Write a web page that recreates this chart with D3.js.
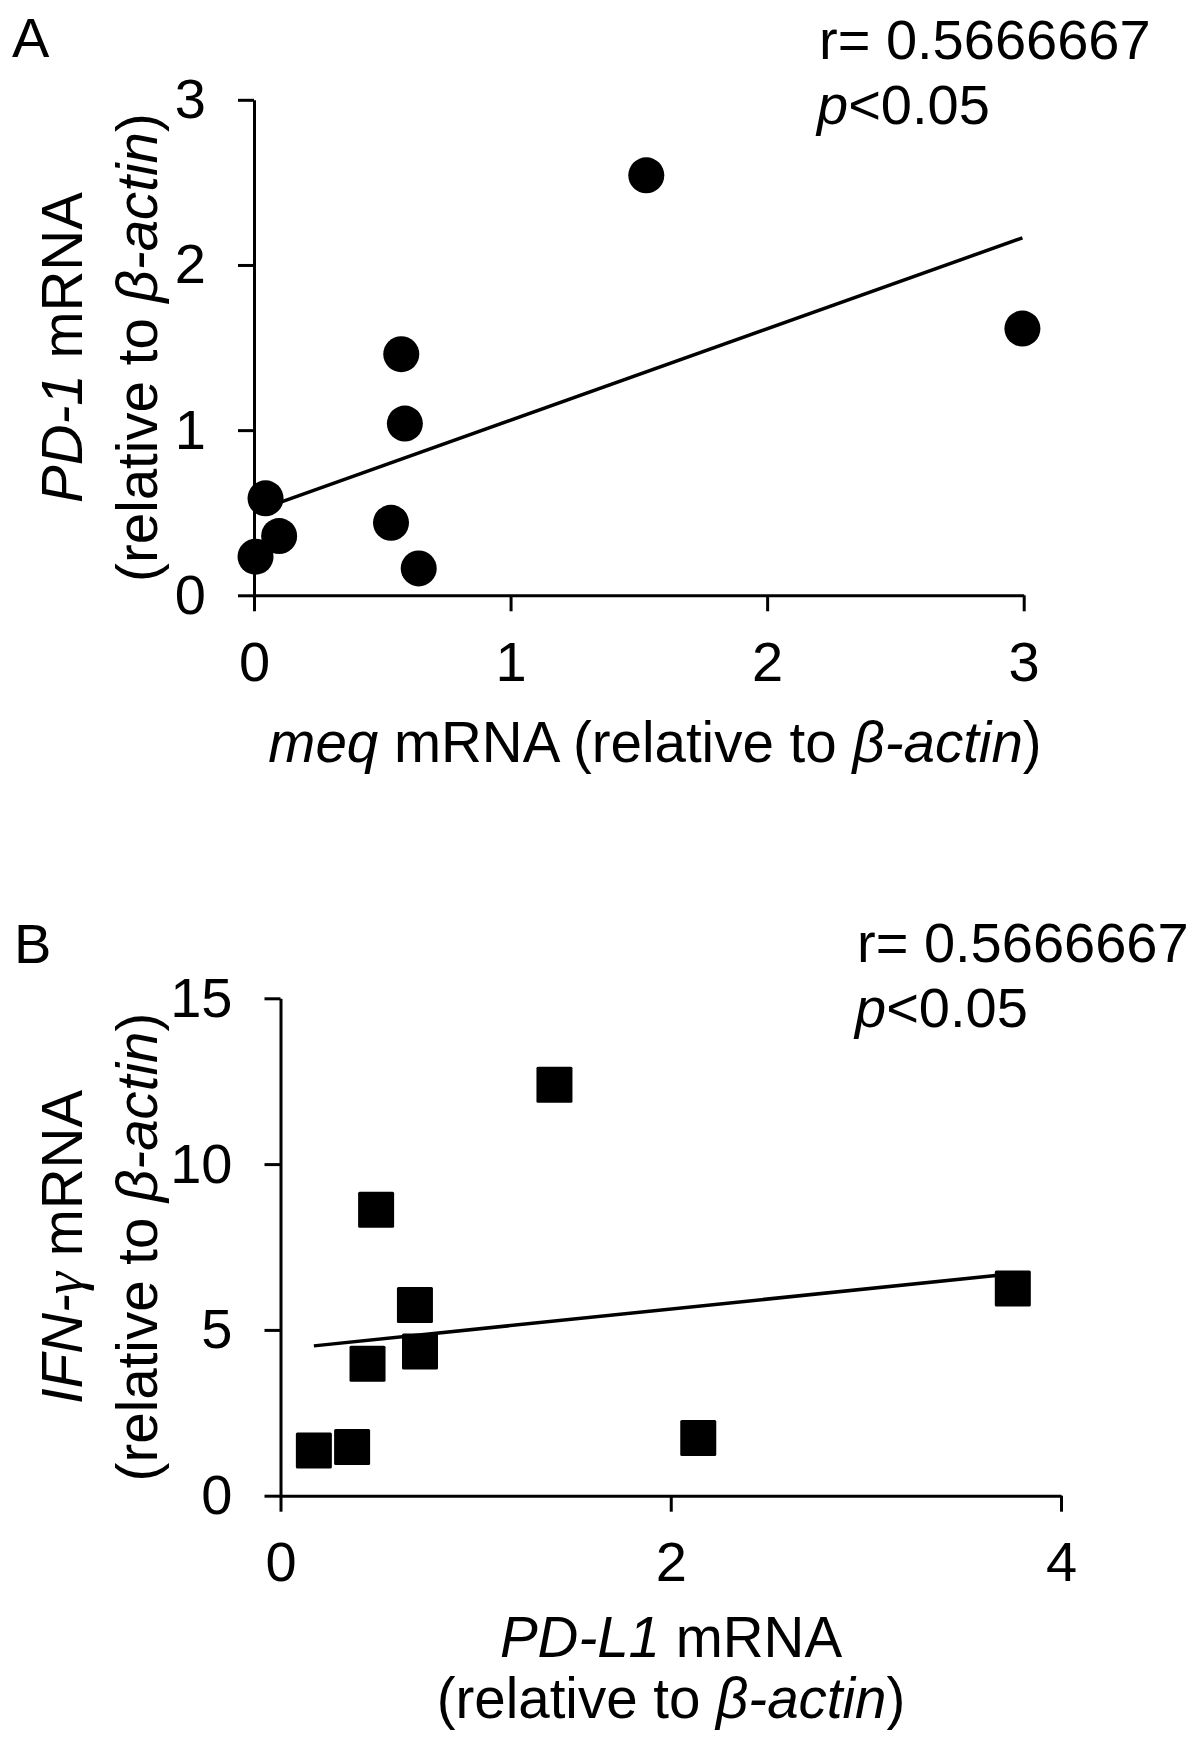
<!DOCTYPE html>
<html>
<head>
<meta charset="utf-8">
<script src="https://cdn.jsdelivr.net/npm/d3@7"></script>
<style>
  html, body { margin: 0; padding: 0; background: #ffffff; }
  svg { display: block; }
  text { font-family: "Liberation Sans", Arial, sans-serif; fill: #000; }
</style>
</head>
<body>
<svg id="chart" width="1200" height="1744"></svg>
<script>
// ---------- Data ----------
// Panel A: meq mRNA (x) vs PD-1 mRNA (y)
const meqValues = [0.006, 0.045, 0.098, 0.534, 0.574, 0.588, 0.642, 1.529, 2.995];
const pd1Values = [0.234, 0.587, 0.359, 0.439, 1.46, 1.04, 0.163, 2.543, 1.615];
const ticksAx = [0, 1, 2, 3];
const ticksAy = [0, 1, 2, 3];

// Panel B: PD-L1 mRNA (x) vs IFN-γ mRNA (y)
const pdl1Values = [0.171, 0.367, 0.446, 0.49, 0.689, 0.715, 1.404, 2.141, 3.753];
const ifngValues = [1.36, 1.47, 3.98, 8.62, 5.75, 4.35, 12.39, 1.74, 6.25];
const ticksBx = [0, 2, 4];
const ticksBy = [0, 5, 10, 15];

const statsA = ["r= 0.5666667", "<0.05"];
const statsB = ["r= 0.5666667", "<0.05"];

// ---------- Helpers ----------
const svg = d3.select("#chart");
svg.append("rect").attr("width", 1200).attr("height", 1744).attr("fill", "#fff");

const TICK_FS = 56, TITLE_FS = 56.5;

function linreg(xs, ys) {
  const n = xs.length;
  const mx = d3.mean(xs), my = d3.mean(ys);
  let sxy = 0, sxx = 0;
  for (let i = 0; i < n; i++) { sxy += (xs[i]-mx)*(ys[i]-my); sxx += (xs[i]-mx)*(xs[i]-mx); }
  const b = sxy / sxx;
  return { slope: b, intercept: my - b*mx };
}

function drawAxes(g, x, y, xt, yt) {
  const ax = g.append("g")
    .attr("transform", `translate(0,${y.range()[0]})`)
    .call(d3.axisBottom(x).tickValues(xt).tickSize(16).tickSizeOuter(0).tickPadding(30).tickFormat(d3.format("d")));
  const ay = g.append("g")
    .attr("transform", `translate(${x.range()[0]},0)`)
    .call(d3.axisLeft(y).tickValues(yt).tickSize(16).tickSizeOuter(0).tickPadding(32).tickFormat(d3.format("d")));
  [ax, ay].forEach(a => {
    a.selectAll("path.domain").attr("stroke", "#000").attr("stroke-width", 3);
    a.selectAll(".tick line").attr("stroke", "#000").attr("stroke-width", 3);
    a.selectAll(".tick text").attr("font-size", TICK_FS).attr("font-family", "Liberation Sans, Arial, sans-serif").attr("fill", "#000");
  });
}

function drawTrend(g, x, y, xs, ys) {
  const r = linreg(xs, ys);
  const x0 = d3.min(xs), x1 = d3.max(xs);
  g.append("line")
    .attr("x1", x(x0)).attr("y1", y(r.intercept + r.slope*x0))
    .attr("x2", x(x1)).attr("y2", y(r.intercept + r.slope*x1))
    .attr("stroke", "#000").attr("stroke-width", 3.5);
}

function betaLine(t, before) {
  t.append("tspan").text(before);
  t.append("tspan").attr("font-style", "italic").text("β-actin");
  t.append("tspan").text(")");
}

// ---------- Panel A ----------
const gA = svg.append("g");
const xA = d3.scaleLinear().domain([0, 3]).range([254, 1023.7]);
const yA = d3.scaleLinear().domain([0, 3]).range([595.3, 99.8]);
drawAxes(gA, xA, yA, ticksAx, ticksAy);
drawTrend(gA, xA, yA, meqValues, pd1Values);
gA.selectAll("circle.pt").data(meqValues).enter().append("circle")
  .attr("class", "pt")
  .attr("cx", d => xA(d))
  .attr("cy", (d, i) => yA(pd1Values[i]))
  .attr("r", 18).attr("fill", "#000");

svg.append("text").attr("x", 12).attr("y", 57).attr("font-size", 56).text("A");
svg.append("text").attr("x", 819).attr("y", 59).attr("font-size", 56).text(statsA[0]);
{
  const t = svg.append("text").attr("x", 817).attr("y", 124).attr("font-size", 56);
  t.append("tspan").attr("font-style", "italic").text("p");
  t.append("tspan").text(statsA[1]);
}
{
  const t = svg.append("text").attr("x", 655).attr("y", 762).attr("font-size", TITLE_FS).attr("text-anchor", "middle");
  t.append("tspan").attr("font-style", "italic").text("meq");
  t.append("tspan").text(" mRNA (relative to ");
  t.append("tspan").attr("font-style", "italic").text("β-actin");
  t.append("tspan").text(")");
}
{
  const cy = (yA.range()[0] + yA.range()[1]) / 2;
  const t1 = svg.append("text").attr("transform", `translate(82,${cy}) rotate(-90)`).attr("font-size", TITLE_FS).attr("text-anchor", "middle");
  t1.append("tspan").attr("font-style", "italic").text("PD-1");
  t1.append("tspan").text(" mRNA");
  const t2 = svg.append("text").attr("transform", `translate(157,${cy}) rotate(-90)`).attr("font-size", TITLE_FS).attr("text-anchor", "middle");
  betaLine(t2, "(relative to ");
}

// ---------- Panel B ----------
const gB = svg.append("g");
const xB = d3.scaleLinear().domain([0, 4]).range([280.5, 1061]);
const yB = d3.scaleLinear().domain([0, 15]).range([1495.7, 998.3]);
drawAxes(gB, xB, yB, ticksBx, ticksBy);
drawTrend(gB, xB, yB, pdl1Values, ifngValues);
gB.selectAll("rect.pt").data(pdl1Values).enter().append("rect")
  .attr("class", "pt")
  .attr("x", d => xB(d) - 18)
  .attr("y", (d, i) => yB(ifngValues[i]) - 18)
  .attr("width", 36).attr("height", 36).attr("rx", 1.5).attr("fill", "#000");

svg.append("text").attr("x", 14).attr("y", 963).attr("font-size", 56).text("B");
svg.append("text").attr("x", 857).attr("y", 962).attr("font-size", 56).text(statsB[0]);
{
  const t = svg.append("text").attr("x", 855).attr("y", 1027).attr("font-size", 56);
  t.append("tspan").attr("font-style", "italic").text("p");
  t.append("tspan").text(statsB[1]);
}
{
  const t1 = svg.append("text").attr("x", 671).attr("y", 1657).attr("font-size", TITLE_FS).attr("text-anchor", "middle");
  t1.append("tspan").attr("font-style", "italic").text("PD-L1");
  t1.append("tspan").text(" mRNA");
  const t2 = svg.append("text").attr("x", 671).attr("y", 1718).attr("font-size", TITLE_FS).attr("text-anchor", "middle");
  betaLine(t2, "(relative to ");
}
{
  const cy = (yB.range()[0] + yB.range()[1]) / 2;
  const t1 = svg.append("text").attr("transform", `translate(82,${cy}) rotate(-90)`).attr("font-size", TITLE_FS).attr("text-anchor", "middle");
  t1.append("tspan").attr("font-style", "italic").text("IFN-");
  t1.append("tspan").attr("font-style", "italic").attr("font-family", "Liberation Serif, serif").text("γ");
  t1.append("tspan").text(" mRNA");
  const t2 = svg.append("text").attr("transform", `translate(157,${cy}) rotate(-90)`).attr("font-size", TITLE_FS).attr("text-anchor", "middle");
  betaLine(t2, "(relative to ");
}
</script>
</body>
</html>
